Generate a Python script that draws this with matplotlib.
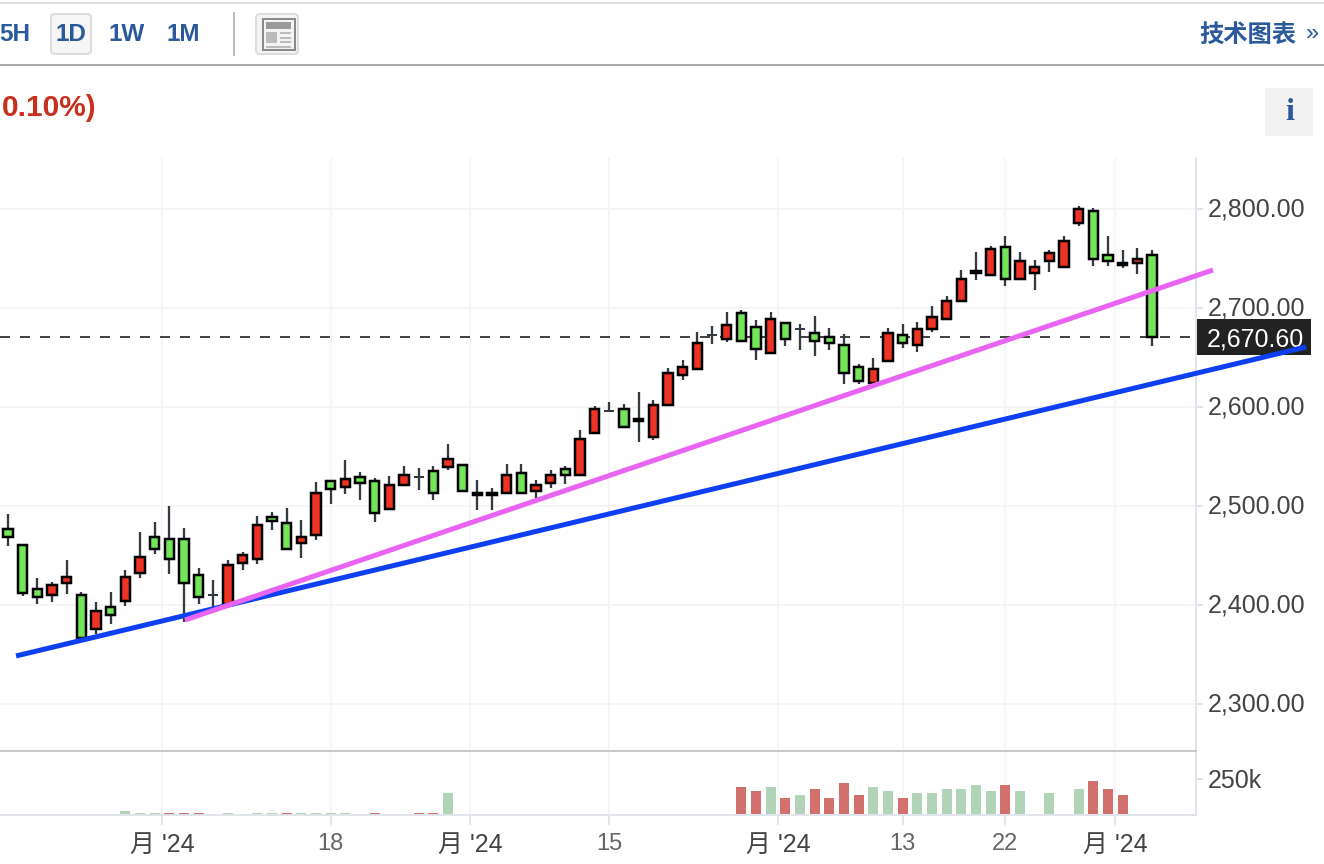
import matplotlib
matplotlib.use("Agg")
import matplotlib.pyplot as plt
from matplotlib.patches import Rectangle, FancyBboxPatch
from matplotlib.transforms import ScaledTranslation

plt.rcParams["font.family"] = ["Liberation Sans", "Noto Sans CJK SC", "DejaVu Sans"]

# daily candles
opens = [2477.1, 2460.9, 2416.5, 2409.8, 2421.9, 2410.1, 2375.5, 2398.3, 2403.7, 2432.0,
         2469.0, 2467.0, 2467.0, 2430.6, 2410.1, 2399.0, 2442.1, 2446.2, 2489.2, 2483.1,
         2462.3, 2470.4, 2525.6, 2518.9, 2529.6, 2525.6, 2496.7, 2520.9, 2529.6, 2535.7,
         2539.1, 2541.7, 2511.2, 2511.2, 2512.8, 2533.6, 2514.8, 2522.9, 2537.7, 2531.0,
         2573.4, 2596.3, 2598.3, 2586.0, 2569.4, 2602.0, 2632.0, 2638.1, 2673.0, 2667.7,
         2695.3, 2681.1, 2654.2, 2685.2, 2679.1, 2675.0, 2671.0, 2662.9, 2640.7, 2624.2,
         2646.2, 2673.0, 2662.3, 2678.5, 2688.6, 2706.8, 2735.5, 2733.0, 2761.9, 2729.0,
         2735.1, 2747.2, 2741.1, 2785.6, 2798.3, 2753.8, 2743.5, 2745.2, 2753.8]
closes = [2468.4, 2411.8, 2407.8, 2420.5, 2428.6, 2365.7, 2394.2, 2389.6, 2428.6, 2448.8,
          2456.3, 2446.2, 2421.9, 2407.8, 2410.1, 2440.7, 2450.8, 2481.1, 2484.5, 2456.3,
          2469.0, 2513.4, 2516.9, 2527.6, 2522.9, 2492.6, 2521.5, 2531.6, 2529.6, 2512.8,
          2547.8, 2514.8, 2513.0, 2513.0, 2531.6, 2512.8, 2521.5, 2531.6, 2531.0, 2568.0,
          2598.3, 2596.3, 2579.5, 2587.8, 2602.3, 2634.6, 2640.7, 2665.0, 2673.0, 2683.1,
          2666.4, 2658.3, 2689.2, 2668.4, 2679.1, 2666.4, 2664.3, 2634.0, 2626.0, 2638.7,
          2675.0, 2664.3, 2679.1, 2691.2, 2707.4, 2729.6, 2737.3, 2759.9, 2729.0, 2747.8,
          2741.7, 2755.9, 2768.0, 2800.3, 2749.2, 2747.2, 2745.3, 2749.8, 2670.6]
highs = [2491.9, 2460.9, 2427.3, 2423.2, 2445.5, 2413.1, 2403.0, 2413.1, 2435.4, 2473.7,
         2483.8, 2500.0, 2477.8, 2437.4, 2425.3, 2445.5, 2453.5, 2489.9, 2493.9, 2498.0,
         2485.9, 2524.2, 2526.3, 2546.5, 2534.3, 2528.3, 2530.3, 2540.4, 2538.4, 2540.4,
         2562.6, 2541.7, 2526.3, 2518.2, 2542.4, 2542.4, 2526.3, 2536.4, 2540.4, 2576.8,
         2601.0, 2605.1, 2603.0, 2615.2, 2607.1, 2639.4, 2647.5, 2675.8, 2681.8, 2696.0,
         2698.0, 2687.9, 2696.0, 2685.2, 2683.8, 2691.9, 2679.8, 2673.7, 2643.4, 2649.5,
         2679.8, 2683.8, 2685.9, 2702.0, 2712.1, 2738.4, 2756.6, 2762.6, 2772.7, 2756.6,
         2748.5, 2758.6, 2772.7, 2803.0, 2801.0, 2772.7, 2758.6, 2760.6, 2758.6]
lows = [2459.6, 2409.1, 2401.0, 2403.0, 2411.1, 2364.6, 2370.7, 2380.8, 2399.0, 2427.3,
        2451.5, 2431.3, 2382.8, 2401.0, 2397.0, 2398.0, 2435.4, 2441.4, 2475.8, 2456.3,
        2447.5, 2465.6, 2502.0, 2512.1, 2506.1, 2483.8, 2496.7, 2520.9, 2516.2, 2506.1,
        2536.4, 2514.8, 2496.0, 2496.0, 2512.8, 2512.8, 2508.1, 2518.2, 2522.2, 2531.0,
        2573.4, 2596.0, 2579.5, 2564.6, 2566.7, 2601.0, 2627.3, 2638.1, 2663.6, 2665.7,
        2666.4, 2647.5, 2654.2, 2661.6, 2657.6, 2651.5, 2657.6, 2623.2, 2623.2, 2623.2,
        2646.2, 2659.6, 2655.6, 2675.8, 2688.6, 2706.8, 2728.3, 2733.0, 2722.2, 2729.0,
        2718.2, 2736.4, 2741.1, 2782.8, 2742.4, 2742.4, 2740.4, 2734.3, 2661.6]

# volume only exists for some days (in thousands)
vol_days = [8, 9, 10, 11, 12, 13, 15, 17, 18, 19, 20, 21, 22, 23, 25, 28, 29, 30,
            50, 51, 52, 53, 54, 55, 56, 57, 58, 59, 60, 61, 62, 63, 64, 65, 66, 67, 68, 69,
            71, 73, 74, 75, 76]
vol_values = [28, 14, 14, 14, 14, 14, 14, 14, 14, 14, 14, 14, 14, 14, 14, 14, 14, 150,
              193, 164, 193, 121, 136, 179, 121, 221, 136, 193, 164, 121, 150, 150, 179, 179, 207, 164, 207, 164,
              150, 179, 236, 179, 136]
vol_side = ["g", "g", "g", "r", "r", "r", "g", "g", "g", "r", "g", "g", "g", "g", "r", "r", "r", "g",
            "r", "r", "g", "r", "g", "r", "r", "r", "r", "g", "g", "r", "g", "g", "g", "g", "g", "g", "r", "g",
            "g", "g", "r", "r", "r"]

# x ticks sit at these candle positions
tick_days = [10.5, 22, 31.5, 41, 52.5, 61, 68, 75.5]
tick_labels = ["月 '24", "18", "月 '24", "15", "月 '24", "13", "22", "月 '24"]
price_ticks = [2300, 2400, 2500, 2600, 2700, 2800]
last_price = 2670.60

# drawn trend lines (candle position, price)
blue_x, blue_y = [0.55, 88.5], [2348.5, 2660.6]
pink_x, pink_y = [12.07, 82.16], [2384.8, 2738.4]

W, H = 1324, 864
px = 0.72  # one pixel in points at dpi 100
RED, GREEN = "#EE3224", "#72E558"
BLUE_TXT = "#2A5A9C"
GRID = "#F5F5F7"
AXIS = "#E1E4EA"

fig = plt.figure(figsize=(W / 100, H / 100), dpi=100, facecolor="white")


def box(left, top, right, bottom):
    return [left / W, 1 - bottom / H, (right - left) / W, (bottom - top) / H]


# page furniture in pixel coordinates, behind the chart
ui = fig.add_axes([0, 0, 1, 1], zorder=0)
ui.set_xlim(0, W)
ui.set_ylim(H, 0)
ui.axis("off")
ui.add_patch(Rectangle((0, 2), W, 2, color="#DEDEDE", lw=0))
ui.add_patch(Rectangle((0, 64), W, 2, color="#ABABAB", lw=0))
ui.add_patch(FancyBboxPatch((51, 14), 40, 40, boxstyle="round,pad=0,rounding_size=4",
                            fc="#F6F6F6", ec="#DDDDDD", lw=2 * px))
for label, x in [("5H", 15), ("1D", 71), ("1W", 127), ("1M", 183)]:
    ui.text(x, 34.5, label, color=BLUE_TXT, fontsize=17.5, fontweight="bold", ha="center", va="center")
ui.add_patch(Rectangle((233, 12), 2, 44, color="#BDBDBD", lw=0))

# layout icon
ui.add_patch(FancyBboxPatch((256, 14), 42, 40, boxstyle="round,pad=0,rounding_size=4",
                            fc="#F4F4F4", ec="#DDDDDD", lw=2 * px))
ui.add_patch(Rectangle((263, 19), 32, 31, fc="none", ec="#8A8A8A", lw=2 * px))
ui.add_patch(Rectangle((266, 22), 25, 7, color="#9A9A9A", lw=0))
ui.add_patch(Rectangle((266, 32), 11, 11, color="#BBBBBB", lw=0))
for y in [32, 37, 41, 46]:
    x0 = 266 if y == 46 else 280
    ui.add_patch(Rectangle((x0, y), 291 - x0, 2, color="#BBBBBB", lw=0))

ui.text(2, 108, "0.10%)", color="#C8301E", fontsize=21.5, fontweight="bold", ha="left", va="center")
ui.text(1199, 35, "技术图表", color=BLUE_TXT, fontsize=17.5, fontweight="bold", ha="left", va="center")
ui.text(1313, 34, "»", color=BLUE_TXT, fontsize=17, ha="center", va="center")
ui.add_patch(Rectangle((1265, 88), 48, 48, color="#F1F1F1", lw=0))
ui.text(1290, 113, "i", color=BLUE_TXT, fontsize=23, fontweight="bold", family="Liberation Serif",
        ha="center", va="center")

# last price box
ui.add_patch(Rectangle((1195, 319), 116, 36, color="#222222", lw=0))
ui.text(1207, 339, f"{last_price:,.2f}", color="white", fontsize=18, ha="left", va="center")

# price panel
ax = fig.add_axes(box(0, 158, 1196, 751), zorder=1)
ax.patch.set_visible(False)
ax.set_xlim(-0.545, 81)
ax.set_ylim(2252.5, 2851.5)
for name in ["top", "left", "bottom"]:
    ax.spines[name].set_visible(False)
ax.spines["right"].set_color(AXIS)
ax.spines["right"].set_linewidth(2 * px)
ax.yaxis.tick_right()
ax.set_yticks(price_ticks)
ax.set_yticklabels([f"{p:,.2f}" for p in price_ticks], fontsize=18, color="#444444")
ax.tick_params(axis="y", length=7 * px, width=2 * px, color=AXIS, pad=5 * px)
# the comma drags the centred labels down, lift them
lift = ScaledTranslation(0, 2 / 100, fig.dpi_scale_trans)
for t in ax.get_yticklabels():
    t.set_transform(t.get_transform() + lift)
ax.set_xticks(tick_days)
ax.tick_params(axis="x", length=0, labelbottom=False)
ax.grid(True, color=GRID, lw=2 * px, zorder=0)
ax.set_axisbelow(True)

ax.axhline(last_price, color="#444444", lw=2 * px, dashes=(5, 5), zorder=1)

days = list(range(len(opens)))
ax.vlines(days, lows, highs, color="#333A40", lw=2.3 * px, zorder=2)
for d, o, c in zip(days, opens, closes):
    if o == c:
        # flat day: just a short dash
        ax.hlines(o, d - 0.34, d + 0.34, color="#333A40", lw=2 * px, zorder=3)
    else:
        # the stroke is centred on the edge, pull bodies in a little
        inset = 0.5 if abs(c - o) > 3 else 0.0
        ax.bar(d, abs(c - o) - 2 * inset, bottom=min(o, c) + inset, width=0.62,
               facecolor=RED if c > o else GREEN, edgecolor="black", linewidth=2.5 * px, zorder=3)

ax.plot(blue_x, blue_y, color="#0E3FF2", lw=5 * px, clip_on=False, zorder=4, solid_capstyle="butt")
ax.plot(pink_x, pink_y, color="#E964F2", lw=5 * px, clip_on=False, zorder=5, solid_capstyle="butt")

# volume panel
vx = fig.add_axes(box(0, 751, 1196, 815), zorder=1)
vx.patch.set_visible(False)
vx.set_xlim(-0.545, 81)
vx.set_ylim(0, 444)
vx.spines["left"].set_visible(False)
vx.spines["top"].set_color("#C9C9C9")
vx.spines["top"].set_linewidth(2 * px)
for name in ["right", "bottom"]:
    vx.spines[name].set_color(AXIS)
    vx.spines[name].set_linewidth(2 * px)
vx.bar(vol_days, vol_values, width=0.68,
       color=["#D1706D" if s == "r" else "#B1D4B8" for s in vol_side], zorder=2)
vx.yaxis.tick_right()
vx.set_yticks([250])
vx.set_yticklabels(["250k"], fontsize=18, color="#444444")
vx.tick_params(axis="y", length=7 * px, width=2 * px, color=AXIS, pad=5 * px)
vx.set_xticks(tick_days)
vx.set_xticklabels(tick_labels)
for t, lab in zip(vx.get_xticklabels(), tick_labels):
    t.set_color("#444444" if "月" in lab else "#666666")
    t.set_fontsize(18 if "月" in lab else 17)
vx.tick_params(axis="x", length=10 * px, width=2 * px, color=AXIS, pad=8 * px)
vx.grid(True, axis="x", color=GRID, lw=2 * px, zorder=0)
vx.set_axisbelow(True)

fig.savefig("out.png", dpi=100)
